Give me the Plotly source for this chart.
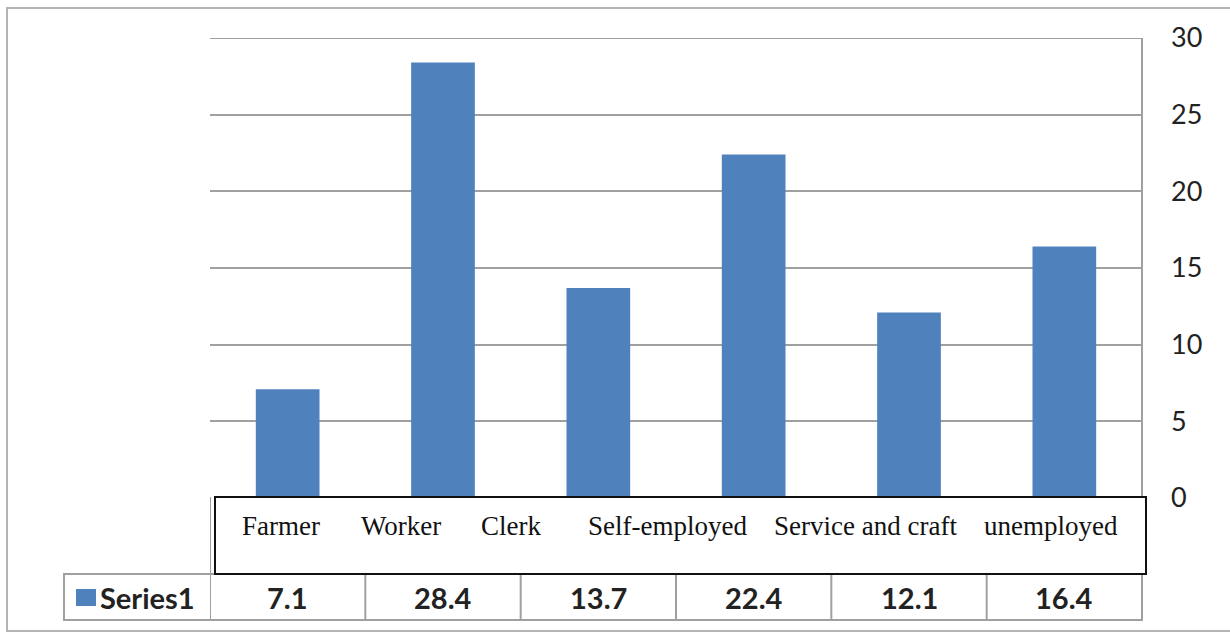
import plotly.graph_objects as go

# ---- data ----
categories = ["Farmer", "Worker", "Clerk", "Self-employed", "Service and craft", "unemployed"]
values = [7.1, 28.4, 13.7, 22.4, 12.1, 16.4]
series_name = "Series1"
y_ticks = [0, 5, 10, 15, 20, 25, 30]

# ---- layout constants (pixels in a 1230x633 canvas) ----
W, H = 1230, 633
PLOT_L, PLOT_R, PLOT_T, PLOT_B = 210, 1142, 38, 498
BAR_COLOR = "#4F81BD"
GRID = "#a0a0a0"
LABEL_CENTERS_PX = [281, 401, 511, 667, 865, 1051]


def px_x(px):
    return (px - PLOT_L) / (PLOT_R - PLOT_L)


def px_y(py):
    return (PLOT_B - py) / (PLOT_B - PLOT_T)


fig = go.Figure(
    go.Bar(
        x=list(range(len(categories))),
        y=values,
        width=0.41,
        marker=dict(color=BAR_COLOR, line=dict(width=0)),
        name=series_name,
    )
)

shapes = []
# outer chart frame
shapes.append(dict(type="rect", xref="paper", yref="paper",
                   x0=px_x(7), x1=px_x(1240), y0=px_y(631), y1=px_y(8),
                   line=dict(color="#b4b4b4", width=2), layer="below"))
# top gridline at the axis maximum
shapes.append(dict(type="line", xref="paper", yref="y",
                   x0=0, x1=1, y0=y_ticks[-1], y1=y_ticks[-1],
                   line=dict(color=GRID, width=2)))
# right edge of plot / table
shapes.append(dict(type="line", xref="paper", yref="paper",
                   x0=1, x1=1, y0=1, y1=px_y(620),
                   line=dict(color=GRID, width=2)))
# data table row
shapes.append(dict(type="rect", xref="paper", yref="paper",
                   x0=px_x(64), x1=1, y0=px_y(620), y1=px_y(574),
                   line=dict(color=GRID, width=2)))
# category column separators
for i in range(len(categories)):
    shapes.append(dict(type="line", xref="x", yref="paper",
                       x0=i - 0.5, x1=i - 0.5,
                       y0=px_y(620), y1=px_y(497 if i == 0 else 574),
                       line=dict(color=GRID, width=2)))
# category label box
shapes.append(dict(type="rect", xref="paper", yref="paper",
                   x0=px_x(215), x1=px_x(1146), y0=px_y(574), y1=px_y(497),
                   line=dict(color="#111111", width=2), fillcolor="white"))
# legend key
shapes.append(dict(type="rect", xref="paper", yref="paper",
                   x0=px_x(76), x1=px_x(96), y0=px_y(606), y1=px_y(589),
                   line=dict(width=0), fillcolor=BAR_COLOR))

annotations = []
for name, cx in zip(categories, LABEL_CENTERS_PX):
    annotations.append(dict(text=name, xref="paper", yref="paper",
                            x=px_x(cx), y=px_y(526), xanchor="center", yanchor="middle",
                            showarrow=False,
                            font=dict(family="Liberation Serif", size=27, color="#111111")))
for i, v in enumerate(values):
    annotations.append(dict(text=f"{v:.1f}", xref="x", yref="paper",
                            x=i, y=px_y(597), xanchor="center", yanchor="middle",
                            showarrow=False,
                            font=dict(family="Lato", size=29, color="#222222", weight="bold")))
annotations.append(dict(text=series_name, xref="paper", yref="paper",
                        x=px_x(98), y=px_y(597), xanchor="left", yanchor="middle",
                        showarrow=False,
                        font=dict(family="Lato", size=29, color="#222222", weight="bold")))

fig.update_layout(
    width=W, height=H,
    margin=dict(l=PLOT_L, r=W - PLOT_R, t=PLOT_T, b=H - PLOT_B, pad=0),
    paper_bgcolor="white", plot_bgcolor="white",
    showlegend=False,
    shapes=shapes,
    annotations=annotations,
    xaxis=dict(range=[-0.5, len(categories) - 0.5], showticklabels=False,
               showgrid=False, zeroline=False, showline=False, ticks=""),
    yaxis=dict(side="right", range=[0, 30], tickvals=y_ticks,
               showgrid=True, gridcolor=GRID, gridwidth=2,
               zeroline=False, showline=False, ticks="",
               ticklabelstandoff=28,
               tickfont=dict(family="Lato", size=27, color="#222222")),
)

fig.write_html("out.html")
